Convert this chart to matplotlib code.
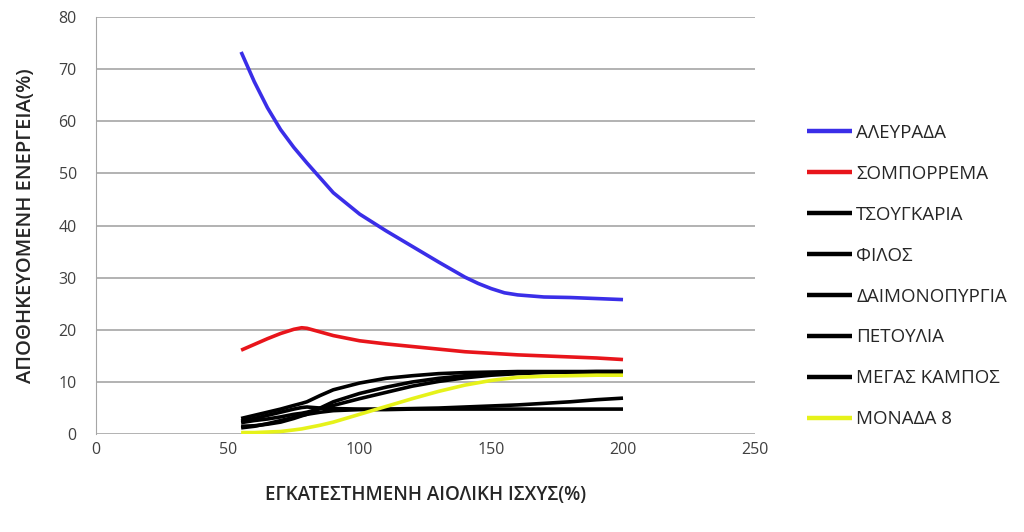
import matplotlib
matplotlib.use("Agg")
import matplotlib.pyplot as plt

plt.rcParams['font.family'] = ['Open Sans', 'DejaVu Sans']

x_alevrada = [55, 60, 65, 70, 75, 80, 90, 100, 110, 120, 130, 140, 145, 150, 155, 160, 170, 180, 190, 200]
alevrada = [73.3, 67.6, 62.6, 58.4, 55.0, 52.0, 46.3, 42.2, 39.0, 36.0, 33.0, 30.1, 28.9, 27.9, 27.1, 26.7, 26.3, 26.2, 26.0, 25.8]

x_common = [55, 60, 65, 70, 75, 78, 80, 85, 90, 100, 110, 120, 130, 140, 150, 160, 170, 180, 190, 200]
sompporema = [16.1, 17.2, 18.3, 19.3, 20.1, 20.4, 20.3, 19.6, 18.9, 17.9, 17.3, 16.8, 16.3, 15.8, 15.5, 15.2, 15.0, 14.8, 14.6, 14.3]
tsougkaria = [3.0, 3.6, 4.2, 4.8, 5.5, 5.9, 6.2, 7.4, 8.5, 9.8, 10.7, 11.2, 11.6, 11.8, 11.9, 12.0, 12.0, 12.0, 12.0, 12.0]
filos = [1.5, 1.6, 1.9, 2.3, 3.0, 3.5, 3.8, 5.0, 6.2, 7.8, 9.0, 10.0, 10.7, 11.2, 11.5, 11.8, 11.9, 11.9, 11.9, 11.8]
daimonopyrgia = [2.5, 3.0, 3.6, 4.2, 4.8, 5.1, 5.2, 5.0, 4.9, 4.8, 4.8, 4.9, 5.0, 5.2, 5.4, 5.6, 5.9, 6.2, 6.6, 6.9]
petoulia = [1.2, 1.5, 2.0, 2.6, 3.2, 3.6, 3.8, 4.2, 4.5, 4.7, 4.7, 4.8, 4.8, 4.8, 4.8, 4.8, 4.8, 4.8, 4.8, 4.8]
megas_kampos = [2.2, 2.6, 2.9, 3.3, 3.8, 4.0, 4.2, 4.9, 5.5, 6.8, 8.0, 9.2, 10.1, 10.8, 11.3, 11.6, 11.8, 11.9, 12.0, 12.0]
monada8 = [0.3, 0.3, 0.4, 0.5, 0.8, 1.0, 1.2, 1.7, 2.3, 3.8, 5.3, 6.8, 8.2, 9.4, 10.3, 10.9, 11.1, 11.2, 11.3, 11.3]

labels = ["ΑΛΕΥΡΑΔΑ", "ΣΟΜΠΟΡΡΕΜΑ", "ΤΣΟΥΓΚΑΡΙΑ", "ΦΙΛΟΣ", "ΔΑΙΜΟΝΟΠΥΡΓΙΑ",
          "ΠΕΤΟΥΛΙΑ", "ΜΕΓΑΣ ΚΑΜΠΟΣ", "ΜΟΝΑΔΑ 8"]
colors = ["#3a2ee8", "#e8151b", "#000000", "#000000", "#000000", "#000000", "#000000", "#e6f21a"]

x_ticks = [0, 50, 100, 150, 200, 250]
y_ticks = [0, 10, 20, 30, 40, 50, 60, 70, 80]

fig = plt.figure(figsize=(10.24, 5.32), dpi=100)
ax = fig.add_axes([0.094, 0.184, 0.643, 0.784])

series = [(x_alevrada, alevrada), (x_common, sompporema), (x_common, tsougkaria),
          (x_common, filos), (x_common, daimonopyrgia), (x_common, petoulia),
          (x_common, megas_kampos), (x_common, monada8)]
for (xs, ys), lab, col in zip(series, labels, colors):
    ax.plot(xs, ys, color=col, lw=2.6, label=lab, solid_capstyle='butt')

ax.set_xlim(0, 250)
ax.set_ylim(0, 80)
ax.set_xticks(x_ticks)
ax.set_yticks(y_ticks)
ax.tick_params(length=0, labelsize=11.5, colors="#404040")
ax.tick_params(axis='x', pad=6)
ax.tick_params(axis='y', pad=14)
ax.yaxis.grid(True, color="#a6a6a6", lw=1.2)
ax.set_axisbelow(True)
for s in ['top', 'right', 'bottom']:
    ax.spines[s].set_visible(False)
ax.spines['left'].set_color("#a6a6a6")

ax.set_xlabel("ΕΓΚΑΤΕΣΤΗΜΕΝΗ ΑΙΟΛΙΚΗ ΙΣΧΥΣ(%)", fontsize=13.5, fontweight='semibold',
              color="#262626", labelpad=19)
ax.set_ylabel("ΑΠΟΘΗΚΕΥΟΜΕΝΗ ΕΝΕΡΓΕΙΑ(%)", fontsize=14.5, fontweight='semibold',
              color="#262626", labelpad=16)

handles, labs = ax.get_legend_handles_labels()
leg = fig.legend(handles, labs, loc='center left', bbox_to_anchor=(0.772, 0.481),
                 frameon=False, fontsize=13.5, handlelength=2.4, handletextpad=0.2,
                 labelspacing=1.22, labelcolor="#262626")
for h in leg.get_lines():
    h.set_linewidth(3.2)

fig.savefig("out.png", dpi=100)
